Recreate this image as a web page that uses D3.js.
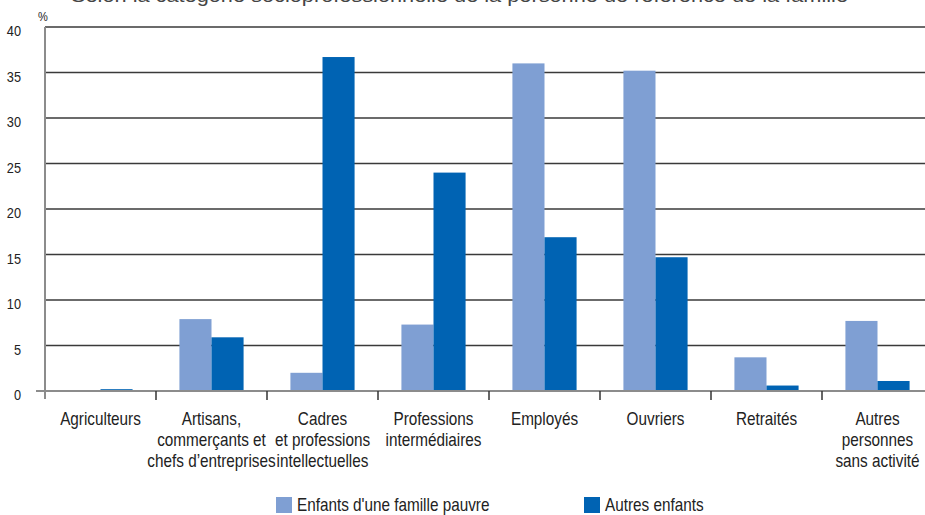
<!DOCTYPE html>
<html>
<head>
<meta charset="utf-8">
<script src="https://cdn.jsdelivr.net/npm/d3@7"></script>
<style>
  body { margin: 0; background: #fff; }
  svg { display: block; }
  text { font-family: "Liberation Sans", Arial, Helvetica, sans-serif; fill: #222; }
</style>
</head>
<body>
<svg id="chart" width="925" height="515"></svg>
<script>
// Categories (multi-line labels)
const categories = [
  ["Agriculteurs"],
  ["Artisans,", "commerçants et", "chefs d\u2019entreprises"],
  ["Cadres", "et professions", "intellectuelles"],
  ["Professions", "intermédiaires"],
  ["Employés"],
  ["Ouvriers"],
  ["Retraités"],
  ["Autres", "personnes", "sans activité"]
];
const seriesNames = ["Enfants d'une famille pauvre", "Autres enfants"];
const pauvres = [0, 7.9, 2.0, 7.3, 36.0, 35.2, 3.7, 7.7];
const autres  = [0.2, 5.9, 36.7, 24.0, 16.9, 14.7, 0.6, 1.1];
const yTicks = [0, 5, 10, 15, 20, 25, 30, 35, 40];
const colors = ["#7f9fd3", "#0063b3"];
const title = "Selon la catégorie socioprofessionnelle de la personne de référence de la famille";

const svg = d3.select("#chart");
const plotLeft = 45, plotRight = 933, plotTop = 27, plotBottom = 391;
const narrow = 0.85; // condensed lettering

const x = d3.scaleBand().domain(d3.range(categories.length)).range([plotLeft, plotRight]).paddingInner(0).paddingOuter(0);
const xs = d3.scaleBand().domain([0, 1]).range([0, x.bandwidth()]).paddingInner(0).paddingOuter(0.73);
const y = d3.scaleLinear().domain([0, 40]).range([plotBottom, plotTop]);

// Condensed text placed at (px, py)
function ntext(parent, px, py, str, size, anchor) {
  return parent.append("text")
    .attr("transform", `translate(${px},${py}) scale(${narrow},1)`)
    .attr("text-anchor", anchor || "start")
    .style("font-size", size + "px")
    .text(str);
}

// Title, running off the top edge
svg.append("text").attr("x", 71).attr("y", 2)
  .attr("textLength", 777).attr("lengthAdjust", "spacingAndGlyphs")
  .style("font-size", "19px").style("fill", "#444")
  .text(title);

// Horizontal grid
svg.append("g").selectAll("line").data(yTicks.filter(d => d > 0)).join("line")
  .attr("x1", plotLeft).attr("x2", 925)
  .attr("y1", d => y(d)).attr("y2", d => y(d))
  .attr("stroke", "#3a3a3a").attr("stroke-width", 1.5);

// Y tick labels
const yl = svg.append("g");
yTicks.forEach(d => ntext(yl, 21, y(d) + 9, d, 15, "end"));

ntext(svg, 38, 21, "%", 13);

// Bars
const series = [pauvres, autres];
series.forEach((vals, si) => {
  svg.append("g").selectAll("rect").data(vals).join("rect")
    .attr("x", (d, i) => x(i) + xs(si))
    .attr("width", xs.bandwidth())
    .attr("y", d => y(d))
    .attr("height", d => y(0) - y(d))
    .attr("fill", colors[si]);
});

// Baseline and y axis line
svg.append("line").attr("x1", 36).attr("x2", 925).attr("y1", y(0)).attr("y2", y(0))
  .attr("stroke", "#8c8c8c").attr("stroke-width", 2);
svg.append("line").attr("x1", plotLeft).attr("x2", plotLeft).attr("y1", plotTop).attr("y2", 399)
  .attr("stroke", "#8c8c8c").attr("stroke-width", 2);

// Category separator ticks
svg.append("g").selectAll("line").data(d3.range(1, categories.length)).join("line")
  .attr("x1", d => x(d)).attr("x2", d => x(d))
  .attr("y1", y(0)).attr("y2", 400)
  .attr("stroke", "#333").attr("stroke-width", 1.5);

// Category labels
const lab = svg.append("g");
categories.forEach((lines, i) => {
  lines.forEach((l, k) => ntext(lab, x(i) + x.bandwidth() / 2, 425 + k * 21, l, 18, "middle"));
});

// Legend
const legendX = [276, 584];
seriesNames.forEach((n, i) => {
  svg.append("rect").attr("x", legendX[i]).attr("y", 497).attr("width", 16).attr("height", 16).attr("fill", colors[i]);
  ntext(svg, legendX[i] + 21, 511, n, 18);
});
</script>
</body>
</html>
